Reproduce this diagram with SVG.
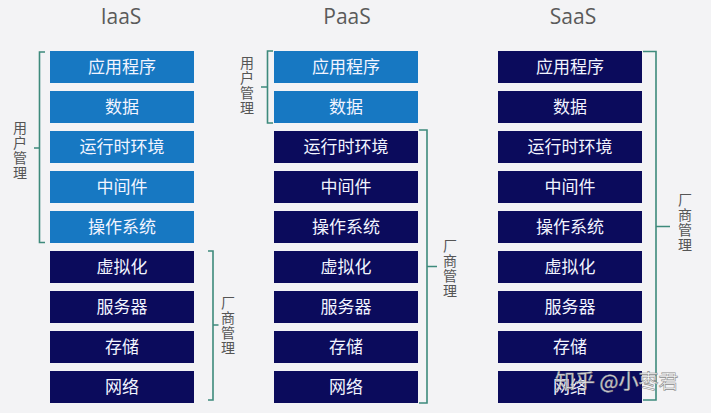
<svg xmlns="http://www.w3.org/2000/svg" width="711" height="413" viewBox="0 0 711 413">
<style>
.bg{fill:#f3f3f5}
.u{fill:#1778c2}
.v{fill:#0b0b5c}
.t{font-family:"Noto Sans CJK SC","Noto Sans",sans-serif;font-size:17px;fill:#f2f4ff;text-anchor:middle}
.h{font-family:"Open Sans","Liberation Sans",sans-serif;font-size:21px;fill:#5a5a5a;text-anchor:middle}
.l{font-family:"Noto Sans CJK SC",sans-serif;font-size:14px;fill:#555;writing-mode:vertical-rl;letter-spacing:1px}
.b{fill:none;stroke:#3e8a7c;stroke-width:1.6}
.w{font-family:"Noto Sans CJK SC",sans-serif;font-size:20px;fill:#ffffff;stroke:#8a8a8a;stroke-width:0.6;fill-opacity:0.9}
</style>
<rect class="bg" x="0" y="0" width="711" height="413"/>
<text class="h" x="121" y="24">IaaS</text>
<text class="h" x="347" y="24">PaaS</text>
<text class="h" x="573" y="24">SaaS</text>

<g id="iaas">
<g id="i1"><rect class="u" x="50" y="51" width="144" height="32"/><text class="t" x="122" y="73">应用程序</text></g>
<g id="i2"><rect class="u" x="50" y="91" width="144" height="32"/><text class="t" x="122" y="113">数据</text></g>
<g id="i3"><rect class="u" x="50" y="131" width="144" height="32"/><text class="t" x="122" y="153">运行时环境</text></g>
<g id="i4"><rect class="u" x="50" y="171" width="144" height="32"/><text class="t" x="122" y="193">中间件</text></g>
<g id="i5"><rect class="u" x="50" y="211" width="144" height="32"/><text class="t" x="122" y="233">操作系统</text></g>
<g id="i6"><rect class="v" x="50" y="251" width="144" height="32"/><text class="t" x="122" y="273">虚拟化</text></g>
<g id="i7"><rect class="v" x="50" y="291" width="144" height="32"/><text class="t" x="122" y="313">服务器</text></g>
<g id="i8"><rect class="v" x="50" y="331" width="144" height="32"/><text class="t" x="122" y="353">存储</text></g>
<g id="i9"><rect class="v" x="50" y="371" width="144" height="32"/><text class="t" x="122" y="393">网络</text></g>
</g>

<g id="paas">
<g id="p1"><rect class="u" x="274" y="51" width="144" height="32"/><text class="t" x="346" y="73">应用程序</text></g>
<g id="p2"><rect class="u" x="274" y="91" width="144" height="32"/><text class="t" x="346" y="113">数据</text></g>
<g id="p3"><rect class="v" x="274" y="131" width="144" height="32"/><text class="t" x="346" y="153">运行时环境</text></g>
<g id="p4"><rect class="v" x="274" y="171" width="144" height="32"/><text class="t" x="346" y="193">中间件</text></g>
<g id="p5"><rect class="v" x="274" y="211" width="144" height="32"/><text class="t" x="346" y="233">操作系统</text></g>
<g id="p6"><rect class="v" x="274" y="251" width="144" height="32"/><text class="t" x="346" y="273">虚拟化</text></g>
<g id="p7"><rect class="v" x="274" y="291" width="144" height="32"/><text class="t" x="346" y="313">服务器</text></g>
<g id="p8"><rect class="v" x="274" y="331" width="144" height="32"/><text class="t" x="346" y="353">存储</text></g>
<g id="p9"><rect class="v" x="274" y="371" width="144" height="32"/><text class="t" x="346" y="393">网络</text></g>
</g>

<g id="saas">
<g id="s1"><rect class="v" x="498" y="51" width="144" height="32"/><text class="t" x="570" y="73">应用程序</text></g>
<g id="s2"><rect class="v" x="498" y="91" width="144" height="32"/><text class="t" x="570" y="113">数据</text></g>
<g id="s3"><rect class="v" x="498" y="131" width="144" height="32"/><text class="t" x="570" y="153">运行时环境</text></g>
<g id="s4"><rect class="v" x="498" y="171" width="144" height="32"/><text class="t" x="570" y="193">中间件</text></g>
<g id="s5"><rect class="v" x="498" y="211" width="144" height="32"/><text class="t" x="570" y="233">操作系统</text></g>
<g id="s6"><rect class="v" x="498" y="251" width="144" height="32"/><text class="t" x="570" y="273">虚拟化</text></g>
<g id="s7"><rect class="v" x="498" y="291" width="144" height="32"/><text class="t" x="570" y="313">服务器</text></g>
<g id="s8"><rect class="v" x="498" y="331" width="144" height="32"/><text class="t" x="570" y="353">存储</text></g>
<g id="s9"><rect class="v" x="498" y="371" width="144" height="32"/><text class="t" x="570" y="393">网络</text></g>
</g>

<g id="brackets">
<path class="b" d="M45 52 H39.5 V242.5 H45 M39.5 148 H34"/>
<path class="b" d="M208 251 H213 V400 H208 M213 325 H218.5"/>
<path class="b" d="M273 51 H267.5 V123 H273 M267.5 87 H261"/>
<path class="b" d="M419 130 H427 V403 H419 M427 266.5 H437"/>
<path class="b" d="M643 51.5 H656 V400 H643 M656 226.5 H670"/>
</g>

<g id="labels" class="l">
<text x="20" y="121">用户管理</text>
<text x="228" y="296">厂商管理</text>
<text x="247" y="56">用户管理</text>
<text x="450" y="239">厂商管理</text>
<text x="685" y="193">厂商管理</text>
</g>
<text class="w" x="555" y="389">知乎 @小枣君</text>
</svg>
